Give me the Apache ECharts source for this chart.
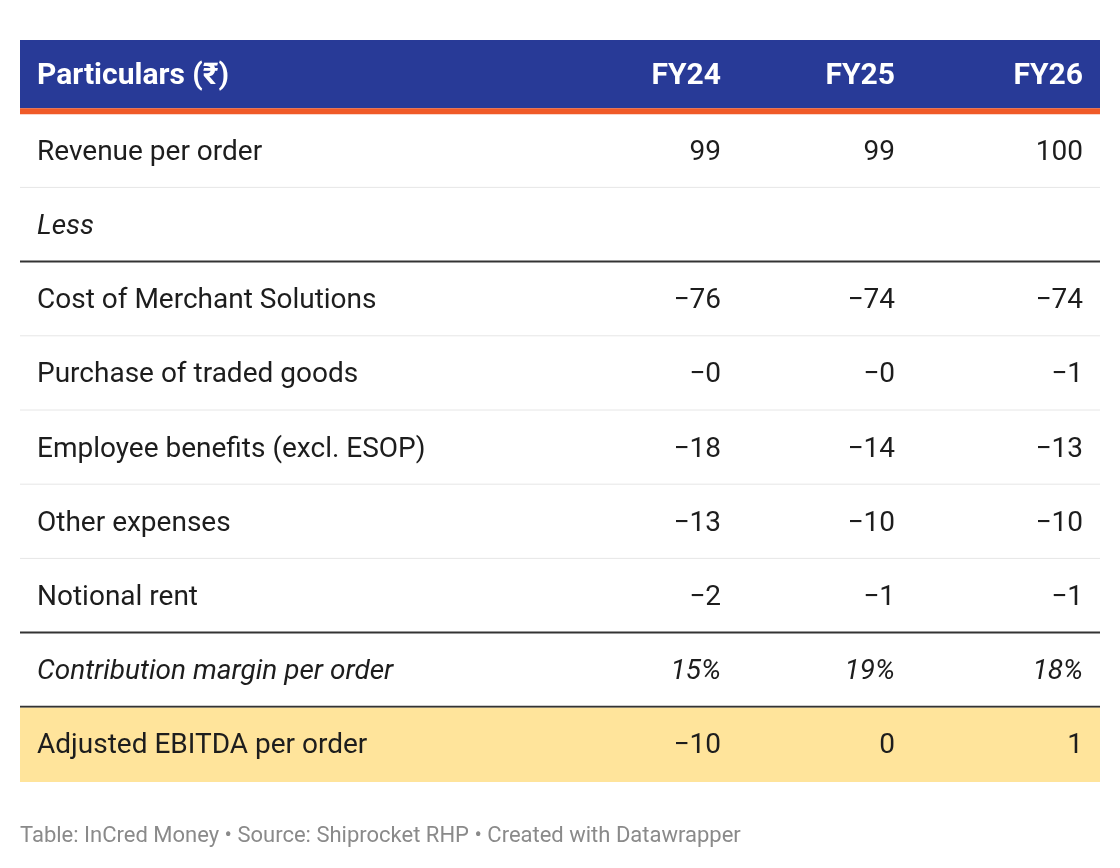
<!DOCTYPE html>
<html>
<head>
<meta charset="utf-8">
<script src="https://cdn.jsdelivr.net/npm/echarts@6/dist/echarts.min.js"></script>
<style>
  html, body { margin: 0; padding: 0; background: #fff; }
  #main { width: 1120px; height: 868px; }
</style>
</head>
<body>
<div id="main"></div>
<script>
// table data
var headLabel = 'Particulars (₹)';
var years = ['FY24', 'FY25', 'FY26'];
var rowLabels = [
  'Revenue per order', 'Less', 'Cost of Merchant Solutions', 'Purchase of traded goods',
  'Employee benefits (excl. ESOP)', 'Other expenses', 'Notional rent',
  'Contribution margin per order', 'Adjusted EBITDA per order'
];
var fy24 = [99, null, -76, -0, -18, -13, -2, 15, -10];
var fy25 = [99, null, -74, -0, -14, -10, -1, 19, 0];
var fy26 = [100, null, -74, -1, -13, -10, -1, 18, 1];
var italicRows = ['Less', 'Contribution margin per order'];
var percentRows = ['Contribution margin per order'];
var darkLineRows = ['Less', 'Notional rent', 'Contribution margin per order'];
var highlightRows = ['Adjusted EBITDA per order'];
var source = 'Table: InCred Money • Source: Shiprocket RHP • Created with Datawrapper';

var cols = [fy24, fy25, fy26];
// right edge of each number column, measured from the table's left edge
var colRight = [701, 875, 1063];
var textPad = 17;
var FONT = 'Roboto, "Noto Sans", sans-serif';

function fmt(v, pct) {
  if (v === null) return '';
  var neg = v < 0 || Object.is(v, -0);
  return (neg ? '\u2212' : '') + Math.abs(v) + (pct ? '%' : '');
}

var yCats = ['header'].concat(rowLabels);

var chart = echarts.init(document.getElementById('main'));
chart.setOption({
  animation: false,
  grid: { left: 20, right: 20, top: 40, height: 742 },
  xAxis: { type: 'value', min: 0, max: 1, show: false },
  yAxis: { type: 'category', data: yCats, inverse: true, show: false },
  graphic: [{
    type: 'text', left: 20, top: 825,
    style: { text: source, font: '22px ' + FONT, fill: '#8a8a8a' }
  }],
  series: [{
    type: 'custom',
    coordinateSystem: 'cartesian2d',
    encode: { x: 0, y: 1 },
    data: yCats.map(function (c, i) { return [0, i]; }),
    renderItem: function (params, api) {
      var i = api.value(1);
      var cs = params.coordSys;
      var cy = api.coord([0, i])[1];
      var h = api.size([0, 1])[1];
      var top = cy - h / 2, bottom = cy + h / 2;
      var kids = [];
      if (i === 0) {
        kids.push({ type: 'rect', shape: { x: cs.x, y: top, width: cs.width, height: h - 6 }, style: { fill: '#283a97' } });
        kids.push({ type: 'rect', shape: { x: cs.x, y: bottom - 6, width: cs.width, height: 6 }, style: { fill: '#f05a28' } });
        var hy = top + (h - 6) / 2 + 2;
        kids.push({ type: 'text', style: { text: headLabel, x: cs.x + textPad, y: hy, align: 'left', verticalAlign: 'middle', font: 'bold 30px ' + FONT, fill: '#fff' } });
        years.forEach(function (y, k) {
          kids.push({ type: 'text', style: { text: y, x: cs.x + colRight[k], y: hy, align: 'right', verticalAlign: 'middle', font: 'bold 30px ' + FONT, fill: '#fff' } });
        });
        return { type: 'group', children: kids };
      }
      var label = rowLabels[i - 1];
      var ital = italicRows.indexOf(label) >= 0;
      var pct = percentRows.indexOf(label) >= 0;
      var font = (ital ? 'italic ' : '') + '28px ' + FONT;
      if (highlightRows.indexOf(label) >= 0) {
        kids.push({ type: 'rect', shape: { x: cs.x, y: top, width: cs.width, height: h }, style: { fill: '#ffe49b' } });
      } else {
        var dark = darkLineRows.indexOf(label) >= 0;
        kids.push({ type: 'line', shape: { x1: cs.x, y1: bottom - 1, x2: cs.x + cs.width, y2: bottom - 1 },
          style: { stroke: dark ? '#333' : '#e6e6e6', lineWidth: dark ? 2 : 1 } });
      }
      kids.push({ type: 'text', style: { text: label, x: cs.x + textPad, y: cy + 1.5, align: 'left', verticalAlign: 'middle', font: font, fill: '#1d1d1d' } });
      cols.forEach(function (arr, k) {
        kids.push({ type: 'text', style: { text: fmt(arr[i - 1], pct), x: cs.x + colRight[k], y: cy + 1.5, align: 'right', verticalAlign: 'middle', font: font, fill: '#1d1d1d' } });
      });
      return { type: 'group', children: kids };
    }
  }]
});
</script>
</body>
</html>
